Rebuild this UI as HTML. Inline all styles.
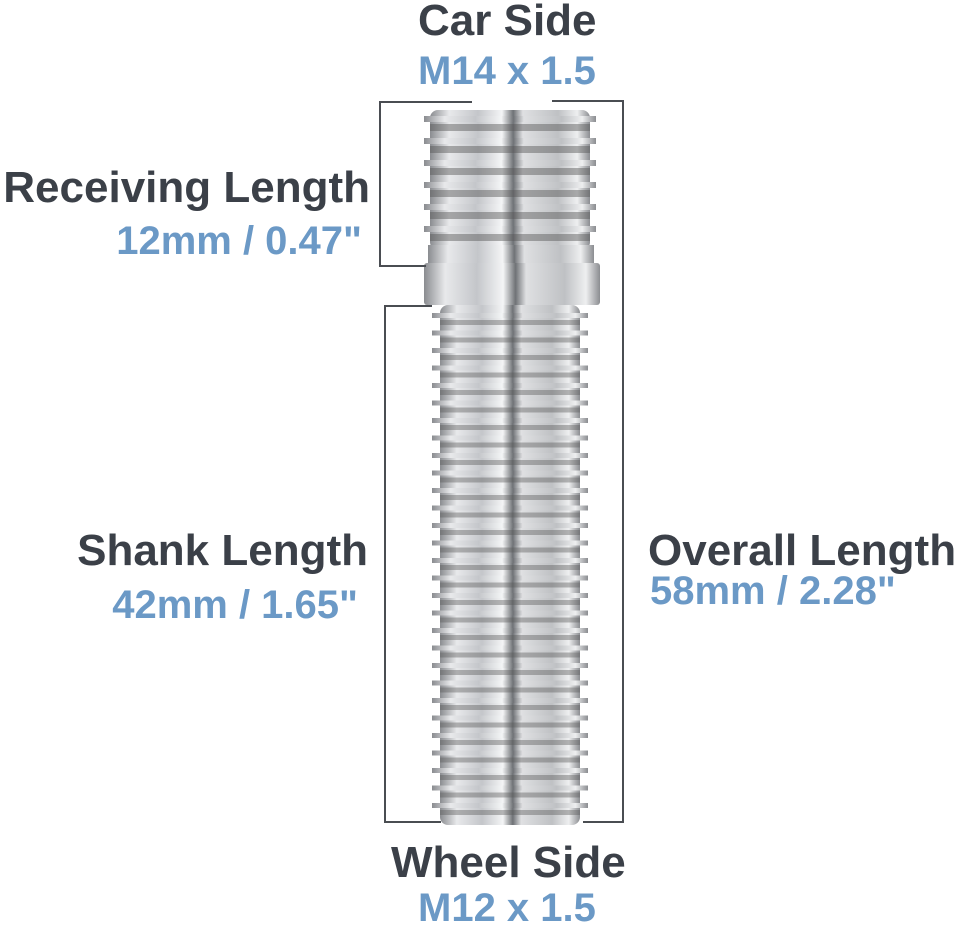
<!DOCTYPE html>
<html><head><meta charset="utf-8"><style>
html,body{margin:0;padding:0;background:#fff;}
body{width:960px;height:925px;position:relative;overflow:hidden;font-family:"Liberation Sans",sans-serif;font-weight:bold;}
.t{position:absolute;font-size:44px;color:#3b4048;white-space:nowrap;line-height:1;}
.b{position:absolute;font-size:40px;color:#6b99c6;white-space:nowrap;line-height:1;}
</style></head><body>
<svg width="960" height="925" style="position:absolute;left:0;top:0">
<defs>
<linearGradient id="m" x1="0" x2="1" y1="0" y2="0">
<stop offset="0" stop-color="#8a8c90"/><stop offset="0.12" stop-color="#e8e9eb"/>
<stop offset="0.3" stop-color="#c4c6ca"/><stop offset="0.45" stop-color="#f4f5f6"/>
<stop offset="0.52" stop-color="#6f7276"/><stop offset="0.58" stop-color="#dfe0e2"/>
<stop offset="0.8" stop-color="#bfc1c4"/><stop offset="0.92" stop-color="#eeeff0"/>
<stop offset="1" stop-color="#8b8d91"/></linearGradient>
<pattern id="th1" width="180" height="22" patternUnits="userSpaceOnUse" x="420" y="112">
<rect x="4" y="4" width="172" height="6" fill="url(#m)"/>
<rect x="10" y="12" width="160" height="7" fill="#555" opacity="0.45"/></pattern>
<pattern id="th2" width="160" height="17.5" patternUnits="userSpaceOnUse" x="430" y="310">
<rect x="2" y="3" width="156" height="5" fill="url(#m)"/>
<rect x="10" y="10" width="140" height="5" fill="#555" opacity="0.4"/></pattern>
</defs>
<rect x="430" y="110" width="160" height="140" rx="8" fill="url(#m)"/>
<rect x="420" y="112" width="180" height="132" fill="url(#th1)"/>
<rect x="428" y="245" width="166" height="20" fill="url(#m)"/>
<rect x="424" y="263" width="176" height="42" rx="3" fill="url(#m)"/>
<rect x="440" y="305" width="140" height="520" rx="8" fill="url(#m)"/>
<rect x="430" y="312" width="160" height="505" fill="url(#th2)"/>
<g stroke="#4a4d52" stroke-width="2" fill="none">
<polyline points="472,102 380,102 380,266 426,266"/>
<polyline points="432,306 385,306 385,822 441,822"/>
<polyline points="552,101 623,101 623,822 583,822"/>
</g>
</svg>
<div class="t" style="left:418px;top:-1px">Car Side</div>
<div class="b" style="left:418px;top:51px">M14 x 1.5</div>
<div class="t" style="right:590px;top:166px">Receiving Length</div>
<div class="b" style="right:598px;top:221px">12mm / 0.47"</div>
<div class="t" style="right:592px;top:529px">Shank Length</div>
<div class="b" style="right:602px;top:585px">42mm / 1.65"</div>
<div class="t" style="left:648px;top:529px">Overall Length</div>
<div class="b" style="left:650px;top:571px">58mm / 2.28"</div>
<div class="t" style="left:391px;top:841px">Wheel Side</div>
<div class="b" style="left:418px;top:888px">M12 x 1.5</div>
</body></html>
